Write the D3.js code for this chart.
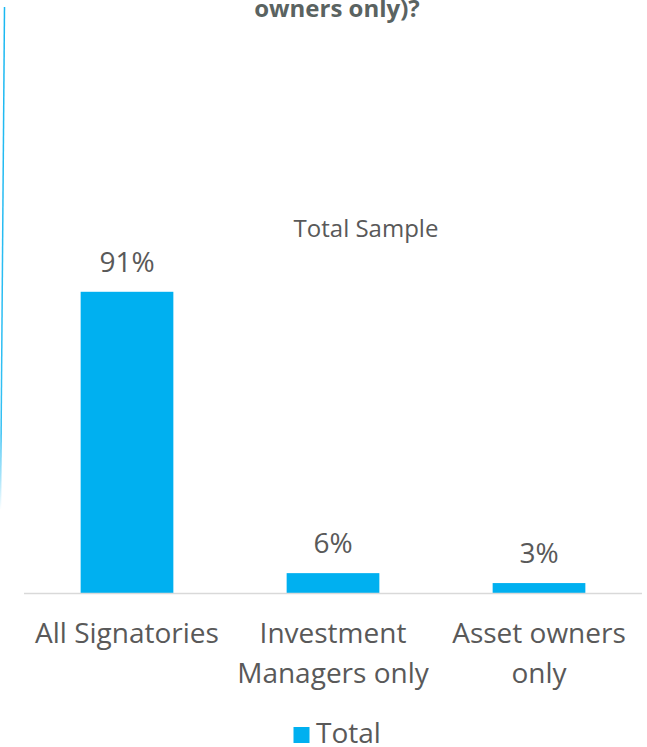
<!DOCTYPE html>
<html>
<head>
<meta charset="utf-8">
<script src="https://cdn.jsdelivr.net/npm/d3@7"></script>
<style>
  body { margin: 0; background: #fff; }
  svg { display: block; font-family: "Open Sans", Lato, sans-serif; }
</style>
</head>
<body>
<svg width="647" height="747"></svg>
<script>
const categories = [["All Signatories"], ["Investment", "Managers only"], ["Asset owners", "only"]];
const totals = [91, 6, 3];
const valueLabels = ["91%", "6%", "3%"];
const seriesName = "Total";
const titleLine = "owners only)?";
const subTitle = "Total Sample";

const svg = d3.select("svg");
const blue = "#00B0F0", grey = "#595959";

// left edge stroke, fading at the bottom
const grad = svg.append("defs").append("linearGradient")
  .attr("id", "edge").attr("x1", 0).attr("y1", 0).attr("x2", 0).attr("y2", 1);
grad.append("stop").attr("offset", "0%").attr("stop-color", blue).attr("stop-opacity", 0.9);
grad.append("stop").attr("offset", "85%").attr("stop-color", blue).attr("stop-opacity", 0.8);
grad.append("stop").attr("offset", "100%").attr("stop-color", blue).attr("stop-opacity", 0);
svg.append("line")
  .attr("x1", 4.5).attr("y1", 7).attr("x2", 0.5).attr("y2", 510)
  .attr("stroke", "url(#edge)").attr("stroke-width", 1.5);

// title fragment (first line is above the visible area)
svg.append("text")
  .attr("x", 337).attr("y", 17)
  .attr("text-anchor", "middle")
  .attr("font-size", 24).attr("font-weight", "bold")
  .attr("fill", "#5a6361")
  .text(titleLine);

svg.append("text")
  .attr("x", 366).attr("y", 237)
  .attr("text-anchor", "middle")
  .attr("font-size", 24).attr("fill", grey)
  .text(subTitle);

const x = d3.scaleBand()
  .domain(d3.range(totals.length))
  .range([24, 642])
  .paddingInner(0.55).paddingOuter(0.275);

const y = d3.scaleLinear().domain([0, 100]).range([593, 262]);

svg.selectAll("rect.bar")
  .data(totals)
  .enter().append("rect")
  .attr("class", "bar")
  .attr("x", (d, i) => x(i))
  .attr("y", d => y(d))
  .attr("width", x.bandwidth())
  .attr("height", d => y(0) - y(d))
  .attr("fill", blue);

svg.selectAll("text.val")
  .data(totals)
  .enter().append("text")
  .attr("class", "val")
  .attr("x", (d, i) => x(i) + x.bandwidth() / 2)
  .attr("y", d => y(d) - 20)
  .attr("text-anchor", "middle")
  .attr("font-size", 28).attr("fill", grey)
  .text((d, i) => valueLabels[i]);

// baseline
svg.append("line")
  .attr("x1", 24).attr("x2", 642)
  .attr("y1", y(0) + 0.5).attr("y2", y(0) + 0.5)
  .attr("stroke", "#d9d9d9").attr("stroke-width", 1.5);

// category labels
const cat = svg.selectAll("text.cat")
  .data(categories)
  .enter().append("text")
  .attr("class", "cat")
  .attr("text-anchor", "middle")
  .attr("font-size", 28).attr("fill", grey);
cat.selectAll("tspan")
  .data((d, i) => d.map(t => ({ t, i })))
  .enter().append("tspan")
  .attr("x", d => x(d.i) + x.bandwidth() / 2)
  .attr("y", (d, j) => 643 + j * 40)
  .text(d => d.t);

// legend
svg.append("rect")
  .attr("x", 293.5).attr("y", 727).attr("width", 16).attr("height", 16)
  .attr("fill", blue);
svg.append("text")
  .attr("x", 316).attr("y", 743)
  .attr("font-size", 28).attr("fill", grey)
  .text(seriesName);
</script>
</body>
</html>
